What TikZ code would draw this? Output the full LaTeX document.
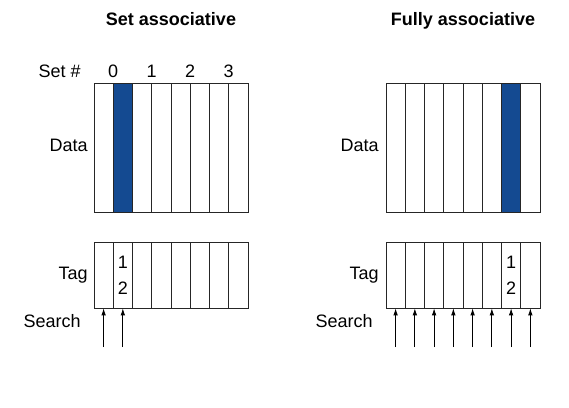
\documentclass[tikz,border=0pt]{standalone}
\usepackage{fontspec}
\setmainfont{Liberation Sans}
\usetikzlibrary{arrows.meta}
\begin{document}
\begin{tikzpicture}[>={Latex[length=7pt,width=4.5pt]}, x=1pt, y=-1pt, line width=0.8pt,
    txt/.style={font=\fontsize{18}{22}\selectfont, inner sep=0pt},
    ttl/.style={font=\fontsize{18}{22}\selectfont\bfseries, inner sep=0pt}]

    % Colores
    \definecolor{hitblue}{RGB}{20,74,145}
    \colorlet{boxline}{black!85}

    \useasboundingbox (0,0) rectangle (569,407);

    % 1. Titulos
    \node[ttl, anchor=base] (setttl) at (171,25.7) {Set associative};
    \node[ttl, anchor=base] (fullttl) at (463,25.7) {Fully associative};

    % 2. Set associative: datos
    \fill[hitblue] (113.25,83) rectangle (132.5,212);
    \draw[boxline] (94,83) rectangle (248,212);
    \foreach \i in {1,...,7} {
        \draw[boxline] (94+\i*19.25,83) -- (94+\i*19.25,212);
    }
    \node[txt, anchor=base east] (setlbl) at (81,77) {Set \#};
    \foreach \n in {0,...,3} {
        \node[txt, anchor=base] (set\n) at (113.25+\n*38.5,77) {\n};
    }
    \node[txt, anchor=base east] (ldata) at (88,151.7) {Data};

    % 3. Set associative: etiquetas
    \draw[boxline] (94,242.3) rectangle (248,308.3);
    \foreach \i in {1,...,7} {
        \draw[boxline] (94+\i*19.25,242.3) -- (94+\i*19.25,308.3);
    }
    \node[txt, anchor=base east] (ltag) at (88,279.5) {Tag};
    \node[txt, anchor=base] (lone) at (122.9,268.3) {1};
    \node[txt, anchor=base] (ltwo) at (122.9,294.3) {2};
    \node[txt, anchor=base east] (lsearch) at (81,327.7) {Search};
    \foreach \i in {0,1} {
        \coordinate (la\i) at (103.6+\i*19.25,347);
        \coordinate (lb\i) at (103.6+\i*19.25,308.3);
        \draw[->] (la\i) -- (lb\i);
    }

    % 4. Fully associative: datos
    \fill[hitblue] (501.5,83) rectangle (520.75,212);
    \draw[boxline] (386,83) rectangle (540,212);
    \foreach \i in {1,...,7} {
        \draw[boxline] (386+\i*19.25,83) -- (386+\i*19.25,212);
    }
    \node[txt, anchor=base east] (rdata) at (379,151.7) {Data};

    % 5. Fully associative: etiquetas
    \draw[boxline] (386,242.3) rectangle (540,308.3);
    \foreach \i in {1,...,7} {
        \draw[boxline] (386+\i*19.25,242.3) -- (386+\i*19.25,308.3);
    }
    \node[txt, anchor=base east] (rtag) at (379,279.5) {Tag};
    \node[txt, anchor=base] (rone) at (511.1,268.3) {1};
    \node[txt, anchor=base] (rtwo) at (511.1,294.3) {2};
    \node[txt, anchor=base east] (rsearch) at (373,327.7) {Search};
    \foreach \i in {0,...,7} {
        \coordinate (ra\i) at (395.6+\i*19.25,347);
        \coordinate (rb\i) at (395.6+\i*19.25,308.3);
        \draw[->] (ra\i) -- (rb\i);
    }

\end{tikzpicture}
\end{document}
